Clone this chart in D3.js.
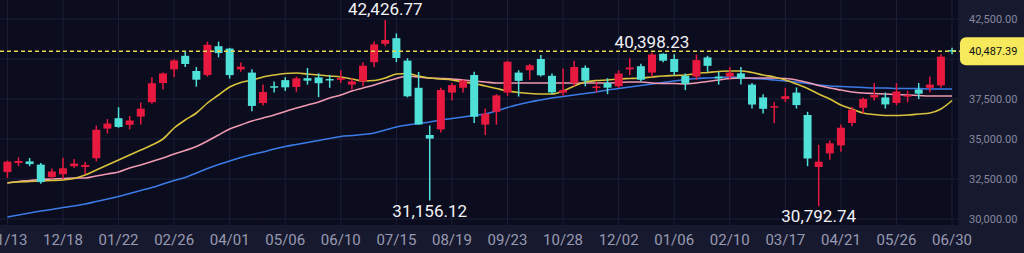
<!DOCTYPE html>
<html>
<head>
<meta charset="utf-8">
<script src="https://cdn.jsdelivr.net/npm/d3@7"></script>
<style>
  html, body { margin: 0; padding: 0; background: #0b0c1e; overflow: hidden; }
  svg { display: block; font-family: Roboto, 'Noto Sans', sans-serif; }
</style>
</head>
<body>
<div id="chart"></div>
<script>
// weekly candles, week starting monday
const weeks = [
  '2023-11-13', '2023-11-20', '2023-11-27', '2023-12-04', '2023-12-11', '2023-12-18', '2023-12-25',
  '2024-01-01', '2024-01-08', '2024-01-15', '2024-01-22', '2024-01-29', '2024-02-05', '2024-02-12',
  '2024-02-19', '2024-02-26', '2024-03-04', '2024-03-11', '2024-03-18', '2024-03-25', '2024-04-01',
  '2024-04-08', '2024-04-15', '2024-04-22', '2024-04-29', '2024-05-06', '2024-05-13', '2024-05-20',
  '2024-05-27', '2024-06-03', '2024-06-10', '2024-06-17', '2024-06-24', '2024-07-01', '2024-07-08',
  '2024-07-15', '2024-07-22', '2024-07-29', '2024-08-05', '2024-08-12', '2024-08-19', '2024-08-26',
  '2024-09-02', '2024-09-09', '2024-09-16', '2024-09-23', '2024-09-30', '2024-10-07', '2024-10-14',
  '2024-10-21', '2024-10-28', '2024-11-04', '2024-11-11', '2024-11-18', '2024-11-25', '2024-12-02',
  '2024-12-09', '2024-12-16', '2024-12-23', '2024-12-30', '2025-01-06', '2025-01-13', '2025-01-20',
  '2025-01-27', '2025-02-03', '2025-02-10', '2025-02-17', '2025-02-24', '2025-03-03', '2025-03-10',
  '2025-03-17', '2025-03-24', '2025-03-31', '2025-04-07', '2025-04-14', '2025-04-21', '2025-04-28',
  '2025-05-05', '2025-05-12', '2025-05-19', '2025-05-26', '2025-06-02', '2025-06-09', '2025-06-16',
  '2025-06-23', '2025-06-30'
]

const open = [
  32930, 33500, 33600, 33400, 32620, 32800, 33300, 33250, 33800, 35650,
  36300, 35880, 36400, 37300, 38500, 39350, 40200, 39250, 39000, 40800,
  40650, 39350, 39150, 37250, 38300, 38680, 38250, 38800, 38850, 38750,
  38700, 38400, 38600, 39800, 40950, 41300, 39900, 38200, 35250, 35600,
  37900, 38200, 39000, 35900, 36700, 37900, 39150, 39300, 40000, 38950,
  37900, 38500, 39450, 38220, 38500, 38300, 39350, 39550, 39150, 40325,
  40000, 38950, 38900, 40100, 38900, 38900, 39100, 38400, 37600, 37000,
  37500, 37900, 36500, 33250, 34100, 34600, 36000, 36950, 37600, 37600,
  37250, 37650, 38100, 38200, 38350, 40560
]
const high = [
  33650, 33853, 33811, 33500, 33150, 33824, 33755, 33568, 35839, 36239,
  36984, 36441, 37287, 38865, 39156, 39990, 40472, 39500, 41087, 41088,
  40697, 39774, 39366, 38400, 38600, 38863, 38900, 39437, 39100, 39000,
  39300, 38800, 39800, 41100, 42426.77, 41600, 40050, 39188, 35850, 38200,
  38500, 38700, 39200, 36900, 37800, 39900, 39300, 39700, 40257, 39100,
  39400, 39884, 39600, 38600, 38800, 39300, 40050, 39700, 40398.23, 40360,
  40300, 39100, 40279, 40200, 39200, 39500, 39500, 38500, 37800, 37300,
  38200, 38220, 36700, 34639, 34900, 35900, 37000, 37600, 38494, 37900,
  38500, 38000, 38500, 38900, 40300, 40700
]
const low = [
  32570, 33300, 33300, 32205, 32500, 32500, 33200, 32800, 33600, 35350,
  35700, 35600, 35900, 37200, 38100, 38876, 39500, 38271, 38900, 40100,
  38774, 39200, 36733, 37100, 37900, 38000, 37950, 38400, 37617, 38200,
  38500, 38100, 38300, 39500, 40800, 39800, 37600, 35880, 31156.12, 35400,
  37400, 37900, 36000, 35247, 35900, 37700, 37651, 38700, 38900, 37800,
  37700, 38300, 38300, 37900, 37800, 38200, 39000, 38600, 38900, 39800,
  39000, 38055, 38700, 39200, 38400, 38700, 38400, 36900, 36600, 35987,
  37300, 36900, 33300, 30792.74, 33700, 34200, 35800, 36600, 37400, 36900,
  37100, 37300, 37500, 37900, 38200, 40300
]
const close = [
  33585, 33625, 33431, 32307, 32970, 33169, 33464, 33377, 35577, 35963,
  35751, 36158, 36897, 38487, 39098, 39910, 39688, 38707, 40888, 40369,
  38992, 39523, 37068, 37934, 38236, 38229, 38787, 38646, 38487, 38683,
  38814, 38596, 39583, 40912, 41190, 40063, 37667, 35909, 35025, 38062,
  38364, 38647, 36391, 36581, 37723, 39829, 38635, 39605, 38981, 37913,
  38054, 39500, 38642, 38283, 38208, 39091, 39470, 38701, 40281, 39894,
  39190, 38451, 39931, 39572, 38787, 39149, 38776, 37155, 36887, 37053,
  37677, 37120, 33780, 33585, 34730, 35705, 36830, 37503, 37753, 37160,
  37965, 37741, 37834, 38403, 40150, 40487.39
]

// moving averages (13 / 26 / 52 weeks)
const ma13 = [
  32270, 32312, 32344, 32375, 32406, 32437, 32531, 32750, 33062, 33375,
  33687, 34000, 34312, 34625, 35000, 35687, 36187, 36625, 37250, 37750,
  38250, 38531, 38687, 38875, 39000, 39094, 39125, 39062, 39000, 38937,
  38875, 38750, 38625, 38656, 38812, 39062, 39094, 38937, 38812, 38750,
  38687, 38562, 38469, 38312, 38156, 38000, 37906, 37844, 37812, 37812,
  38000, 38312, 38562, 38656, 38687, 38750, 38781, 38812, 38875, 38937,
  38969, 39000, 39094, 39156, 39219, 39250, 39250, 39156, 39000, 38875,
  38687, 38437, 38156, 37812, 37500, 37125, 36875, 36625, 36531, 36469,
  36469, 36500, 36562, 36625, 36875, 37406
]
const ma26 = [
  32250, 32344, 32406, 32469, 32500, 32531, 32562, 32562, 32687, 32812,
  32937, 33187, 33375, 33594, 33812, 34062, 34281, 34531, 34875, 35250,
  35625, 35875, 36125, 36312, 36500, 36719, 36937, 37125, 37312, 37562,
  37750, 38000, 38187, 38375, 38594, 38781, 38937, 38875, 38812, 38781,
  38750, 38687, 38625, 38562, 38500, 38500, 38500, 38500, 38500, 38500,
  38500, 38500, 38500, 38500, 38500, 38531, 38562, 38562, 38500, 38469,
  38469, 38437, 38500, 38594, 38687, 38781, 38812, 38812, 38812, 38812,
  38781, 38687, 38531, 38344, 38187, 38062, 37937, 37875, 37844, 37812,
  37781, 37750, 37719, 37687, 37687, 37687
]
const ma52 = [
  30125, 30250, 30375, 30500, 30594, 30719, 30812, 30937, 31094, 31250,
  31406, 31594, 31781, 31969, 32187, 32406, 32594, 32875, 33156, 33406,
  33625, 33844, 34031, 34187, 34375, 34531, 34656, 34781, 34906, 35031,
  35156, 35219, 35281, 35375, 35562, 35750, 35875, 35969, 36062, 36187,
  36281, 36375, 36469, 36562, 36750, 36969, 37156, 37312, 37437, 37562,
  37656, 37750, 37844, 37937, 38062, 38156, 38250, 38344, 38437, 38531,
  38625, 38719, 38781, 38812, 38844, 38875, 38844, 38781, 38750, 38687,
  38625, 38562, 38469, 38375, 38312, 38281, 38250, 38219, 38187, 38187,
  38156, 38156, 38156, 38125, 38125, 38125
]

const tickDates = [
  '2023-11-13', '2023-12-18', '2024-01-22', '2024-02-26', '2024-04-01', '2024-05-06',
  '2024-06-10', '2024-07-15', '2024-08-19', '2024-09-23', '2024-10-28', '2024-12-02',
  '2025-01-06', '2025-02-10', '2025-03-17', '2025-04-21', '2025-05-26', '2025-06-30'
]
const gridPrices = [30000, 32500, 35000, 37500, 40000, 42500]
// 40,000 sits under the last price tag, so it has no label
const priceLabels = [30000, 32500, 35000, 37500, 42500]

// weeks whose high / low gets a value label
const highMarks = ['2024-07-08', '2024-12-23']
const lowMarks = ['2024-08-05', '2025-04-07']

const width = 1024
const height = 253
const plotRight = 958
const plotBottom = 225

const upColor = '#e8193f'
const downColor = '#4fe0d8'

const svg = d3
  .select('#chart')
  .append('svg')
  .attr('width', width)
  .attr('height', height)

svg.append('rect').attr('width', width).attr('height', height).attr('fill', '#0b0c1e')
svg.append('rect')
  .attr('x', plotRight).attr('width', width - plotRight).attr('height', height)
  .attr('fill', '#171a2e')
svg.append('rect')
  .attr('y', plotBottom).attr('width', width).attr('height', height - plotBottom)
  .attr('fill', '#171a2e')

svg.append('clipPath').attr('id', 'plot-clip')
  .append('rect').attr('width', plotRight).attr('height', plotBottom)

const xPositionScale = d3
  .scaleBand()
  .domain(weeks)
  .range([1.85, 957.6])
  .paddingInner(0.28)
  .paddingOuter(0.14)
const cx = d => xPositionScale(d) + xPositionScale.bandwidth() / 2

const yPositionScale = d3
  .scaleLinear()
  .domain([30000, 42500])
  .range([219, 19])

const candles = weeks.map((w, i) => ({
  week: w, open: open[i], high: high[i], low: low[i], close: close[i]
}))

// grid
const grid = svg.append('g').attr('clip-path', 'url(#plot-clip)')
grid.selectAll('.vgrid')
  .data(tickDates)
  .enter()
  .append('line')
  .attr('x1', d => cx(d)).attr('x2', d => cx(d))
  .attr('y1', 0).attr('y2', plotBottom)
  .attr('stroke', '#1c1f36')
  .attr('stroke-width', 1)
grid.selectAll('.hgrid')
  .data(gridPrices)
  .enter()
  .append('line')
  .attr('x1', 0).attr('x2', plotRight)
  .attr('y1', d => yPositionScale(d)).attr('y2', d => yPositionScale(d))
  .attr('stroke', '#1c1f36')
  .attr('stroke-width', 1)

const plot = svg.append('g').attr('clip-path', 'url(#plot-clip)')

// moving averages
const line = d3.line()
  .x((d, i) => cx(weeks[i]))
  .y(d => yPositionScale(d))
  .curve(d3.curveMonotoneX)

const maSeries = [
  { values: ma52, color: '#3b7be6' },
  { values: ma26, color: '#f09ab2' },
  { values: ma13, color: '#d8c23c' }
]
maSeries.forEach(s => {
  plot.append('path')
    .datum(s.values)
    .attr('d', line)
    .attr('fill', 'none')
    .attr('stroke', s.color)
    .attr('stroke-width', 1.6)
})

// candles
const candle = plot.selectAll('.candle')
  .data(candles)
  .enter()
  .append('g')
  .attr('class', 'candle')

candle.append('line')
  .attr('x1', d => cx(d.week)).attr('x2', d => cx(d.week))
  .attr('y1', d => yPositionScale(d.high))
  .attr('y2', d => yPositionScale(d.low))
  .attr('stroke', d => d.close >= d.open ? upColor : downColor)
  .attr('stroke-width', 1.5)

candle.append('rect')
  .attr('x', d => xPositionScale(d.week))
  .attr('width', xPositionScale.bandwidth())
  .attr('y', d => yPositionScale(Math.max(d.open, d.close)))
  .attr('height', d => Math.max(1.5, Math.abs(yPositionScale(d.open) - yPositionScale(d.close))))
  .attr('fill', d => d.close >= d.open ? upColor : downColor)

// last price line
const last = close[close.length - 1]
svg.append('line')
  .attr('x1', 0).attr('x2', plotRight + 2)
  .attr('y1', yPositionScale(last)).attr('y2', yPositionScale(last))
  .attr('stroke', '#e6d84e')
  .attr('stroke-width', 1.5)
  .attr('stroke-dasharray', '4,3')

// high / low labels
const fmt = d3.format(',.2f')
const labels = svg.append('g')
  .attr('fill', '#f2f2f6')
  .attr('font-size', 17)
  .attr('text-anchor', 'middle')
highMarks.forEach(w => {
  const i = weeks.indexOf(w)
  labels.append('text')
    .attr('x', cx(w))
    .attr('y', yPositionScale(high[i]) - 5)
    .text(fmt(high[i]))
})
lowMarks.forEach(w => {
  const i = weeks.indexOf(w)
  labels.append('text')
    .attr('x', cx(w))
    .attr('y', yPositionScale(low[i]) + 16)
    .text(fmt(low[i]))
})

// y axis on the right
const yAxis = d3.axisRight(yPositionScale)
  .tickValues(priceLabels)
  .tickFormat(fmt)
  .tickSize(0)
  .tickPadding(0)
svg.append('g')
  .attr('class', 'axis y-axis')
  .attr('transform', 'translate(969,0)')
  .call(yAxis)
  .call(g => g.select('.domain').remove())
  .selectAll('text')
  .attr('fill', '#85879f')
  .attr('font-size', 11)
  .attr('font-family', 'Roboto, sans-serif')

// x axis at the bottom
const xAxis = d3.axisBottom(xPositionScale)
  .tickValues(tickDates)
  .tickFormat(d => d.slice(5).replace('-', '/'))
  .tickSize(0)
svg.append('g')
  .attr('class', 'axis x-axis')
  .attr('transform', 'translate(0,240)')
  .call(xAxis)
  .call(g => g.select('.domain').remove())
  .selectAll('text')
  .attr('y', 0)
  .attr('dy', '0.36em')
  .attr('fill', '#9799b1')
  .attr('font-size', 15)
  .attr('font-family', 'Roboto, sans-serif')

// last price tag
const tagY = yPositionScale(last)
svg.append('rect')
  .attr('x', 960).attr('y', tagY - 14)
  .attr('width', 74).attr('height', 28)
  .attr('rx', 6)
  .attr('fill', '#f6e95c')
svg.append('text')
  .attr('x', 969).attr('y', tagY)
  .attr('dy', '0.36em')
  .attr('fill', '#111111')
  .attr('font-size', 11)
  .text(fmt(last))
</script>
</body>
</html>
